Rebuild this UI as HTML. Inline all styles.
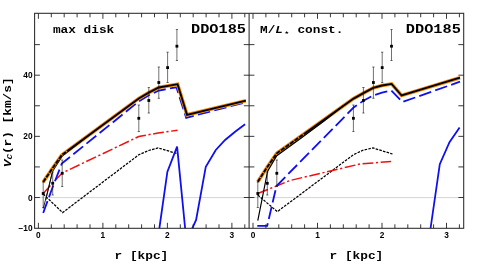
<!DOCTYPE html><html><head><meta charset="utf-8"><style>html,body{margin:0;padding:0;background:#fff;}svg{display:block}text{filter:grayscale(1)}text{font-family:"Liberation Mono",monospace;font-weight:bold;fill:#000}.t{font-family:"Liberation Sans",sans-serif;font-weight:bold;font-size:8.3px}</style></head><body>
<svg width="480" height="276" viewBox="0 0 480 276">
<rect width="480" height="276" fill="#fff"/>
<defs>
<clipPath id="cl"><rect x="34.6" y="13.3" width="214.5" height="215.0"/></clipPath>
<clipPath id="cr"><rect x="249.1" y="13.3" width="214.6" height="215.0"/></clipPath>
</defs>
<g clip-path="url(#cl)" fill="none" stroke-linejoin="miter">
<line x1="34.6" y1="197.6" x2="249.1" y2="197.6" stroke="#d4d4d4" stroke-width="1"/>
<polyline points="43.2,194.0 62.6,212.6 138.8,154.8 148.6,150.5 158.1,147.9 176.9,153.5" stroke="#000" stroke-width="1.25" stroke-dasharray="2.6,1.2"/>
<polyline points="43.2,193.5 52.7,183.0 62.2,173.0 138.8,136.5 158.1,133.0 177.6,130.2" stroke="#f01010" stroke-width="1.5" stroke-dasharray="10.8,2.6,2.2,2.6"/>
<polyline points="156.4,240.0 159.4,228.0 167.4,171.7 177.1,146.7 185.1,228.0 186.4,240.0" stroke="#1010ee" stroke-width="1.8"/>
<polyline points="190.4,240.0 192.4,228.0 196.1,220.0 205.8,166.7 215.8,150.0 225.1,140.0 235.4,131.5 245.1,124.3" stroke="#1010ee" stroke-width="1.8"/>
<polyline points="43.2,213.0 52.7,187.0 61.8,163.6 138.8,101.4 148.8,95.3 158.8,90.5 176.4,87.3 186.2,117.8 245.9,102.2" stroke="#1010ee" stroke-width="1.8" stroke-dasharray="12.6,4.3"/>
<polyline points="43.2,182.0 52.7,168.0 61.8,155.0 138.8,98.4 148.8,92.6 158.8,87.5 177.6,84.2 187.0,114.8 245.9,100.7" stroke="#f08a10" stroke-width="3.6"/>
<polyline points="43.2,182.0 52.7,168.0 61.8,155.0 138.8,98.4 148.8,92.6 158.8,87.5 177.6,84.2 187.0,114.8 245.9,100.7" stroke="#000" stroke-width="1.85" stroke-dasharray="4.4,1.2,4.4,1.2,4.4,1.2,4.4,1.2,4.4,1.2,4.4,1.2,4.4,1.2,2000,1"/>
<polyline points="43.3,208.5 52.7,171.5 62.2,156.3 100.4,126.6" stroke="#000" stroke-width="0.85"/>
<polyline points="45.8,200.0 52.0,173.0" stroke="#000" stroke-width="0.85"/>
<path d="M43.2,182V207.5M42.1,182h2.2M42.1,207.5h2.2" stroke="#111" stroke-width="0.6"/>
<rect x="41.8" y="192.1" width="2.8" height="2.8" fill="#000" stroke="none"/>
<path d="M52.7,172V195M51.6,172h2.2M51.6,195h2.2" stroke="#111" stroke-width="0.6"/>
<rect x="51.3" y="181.9" width="2.8" height="2.8" fill="#000" stroke="none"/>
<path d="M62.2,160V186.5M61.1,160h2.2M61.1,186.5h2.2" stroke="#111" stroke-width="0.6"/>
<rect x="60.8" y="171.9" width="2.8" height="2.8" fill="#000" stroke="none"/>
<path d="M138.8,105V131.5M137.7,105h2.2M137.7,131.5h2.2" stroke="#111" stroke-width="0.6"/>
<rect x="137.4" y="116.9" width="2.8" height="2.8" fill="#000" stroke="none"/>
<path d="M148.8,87.5V113M147.7,87.5h2.2M147.7,113h2.2" stroke="#111" stroke-width="0.6"/>
<rect x="147.4" y="99.1" width="2.8" height="2.8" fill="#000" stroke="none"/>
<path d="M158.8,67V98.3M157.7,67h2.2M157.7,98.3h2.2" stroke="#111" stroke-width="0.6"/>
<rect x="157.4" y="81.1" width="2.8" height="2.8" fill="#000" stroke="none"/>
<path d="M167.6,52.2V82.5M166.5,52.2h2.2M166.5,82.5h2.2" stroke="#111" stroke-width="0.6"/>
<rect x="166.2" y="66.2" width="2.8" height="2.8" fill="#000" stroke="none"/>
<path d="M176.9,29.5V60.5M175.8,29.5h2.2M175.8,60.5h2.2" stroke="#111" stroke-width="0.6"/>
<rect x="175.5" y="44.8" width="2.8" height="2.8" fill="#000" stroke="none"/>
</g>
<g clip-path="url(#cr)" fill="none" stroke-linejoin="miter">
<line x1="249.1" y1="197.6" x2="463.7" y2="197.6" stroke="#d4d4d4" stroke-width="1"/>
<polyline points="257.8,195.0 277.3,211.7 353.6,154.6 363.5,150.0 373.1,148.0 392.5,154.0" stroke="#000" stroke-width="1.25" stroke-dasharray="2.6,1.2"/>
<polyline points="257.8,193.5 290.0,180.5 332.5,170.5 360.0,164.0 391.0,161.5" stroke="#f01010" stroke-width="1.5" stroke-dasharray="10.8,2.6,2.2,2.6"/>
<polyline points="429.0,240.0 430.6,228.0 439.8,164.2 449.5,142.2 459.6,127.6" stroke="#1010ee" stroke-width="1.8"/>
<polyline points="257.3,225.8 267.2,225.8 276.5,186.0 353.6,107.5 363.4,100.8 373.2,95.5 382.0,92.6 391.3,90.4 402.4,102.0 460.0,81.7" stroke="#1010ee" stroke-width="1.8" stroke-dasharray="12.6,4.3"/>
<polyline points="257.8,181.7 267.3,167.0 276.8,153.3 353.6,98.6 363.4,93.1 373.2,87.9 382.0,85.5 391.6,83.9 401.6,95.5 460.0,77.7" stroke="#f08a10" stroke-width="3.6"/>
<polyline points="257.8,181.7 267.3,167.0 276.8,153.3 353.6,98.6 363.4,93.1 373.2,87.9 382.0,85.5 391.6,83.9 401.6,95.5 460.0,77.7" stroke="#000" stroke-width="1.85" stroke-dasharray="4.4,1.2,4.4,1.2,4.4,1.2,4.4,1.2,4.4,1.2,4.4,1.2,4.4,1.2,4.4,1.2,4.4,1.2,4.4,1.2,4.4,1.2,4.4,1.2,2000,1"/>
<polyline points="257.8,220.7 267.6,171.2 276.8,155.7 302.6,137.0 324.0,121.0 343.0,106.0" stroke="#000" stroke-width="1.2"/>
<path d="M257.8,182V207.5M256.7,182h2.2M256.7,207.5h2.2" stroke="#111" stroke-width="0.6"/>
<rect x="256.4" y="192.1" width="2.8" height="2.8" fill="#000" stroke="none"/>
<path d="M267.3,172V195M266.2,172h2.2M266.2,195h2.2" stroke="#111" stroke-width="0.6"/>
<rect x="265.9" y="181.9" width="2.8" height="2.8" fill="#000" stroke="none"/>
<path d="M276.8,160V186.5M275.7,160h2.2M275.7,186.5h2.2" stroke="#111" stroke-width="0.6"/>
<rect x="275.4" y="171.9" width="2.8" height="2.8" fill="#000" stroke="none"/>
<path d="M353.4,105V131.5M352.3,105h2.2M352.3,131.5h2.2" stroke="#111" stroke-width="0.6"/>
<rect x="352.0" y="116.9" width="2.8" height="2.8" fill="#000" stroke="none"/>
<path d="M363.4,87.5V113M362.3,87.5h2.2M362.3,113h2.2" stroke="#111" stroke-width="0.6"/>
<rect x="362.0" y="99.1" width="2.8" height="2.8" fill="#000" stroke="none"/>
<path d="M373.4,67V98.3M372.3,67h2.2M372.3,98.3h2.2" stroke="#111" stroke-width="0.6"/>
<rect x="372.0" y="81.1" width="2.8" height="2.8" fill="#000" stroke="none"/>
<path d="M382.2,52.2V82.5M381.1,52.2h2.2M381.1,82.5h2.2" stroke="#111" stroke-width="0.6"/>
<rect x="380.8" y="66.2" width="2.8" height="2.8" fill="#000" stroke="none"/>
<path d="M391.5,29.5V60.5M390.4,29.5h2.2M390.4,60.5h2.2" stroke="#111" stroke-width="0.6"/>
<rect x="390.1" y="44.8" width="2.8" height="2.8" fill="#000" stroke="none"/>
</g>
<g stroke="#2a2a2a" stroke-width="1.05" fill="none">
<rect x="34.6" y="13.3" width="429.09999999999997" height="215.0"/>
<line x1="249.1" y1="13.3" x2="249.1" y2="228.3"/>
</g>
<g stroke="#222" stroke-width="0.9">
<line x1="38.40" y1="13.3" x2="38.40" y2="18.8"/>
<line x1="38.40" y1="228.3" x2="38.40" y2="222.8"/>
<line x1="51.30" y1="13.3" x2="51.30" y2="17.3"/>
<line x1="51.30" y1="228.3" x2="51.30" y2="224.3"/>
<line x1="64.20" y1="13.3" x2="64.20" y2="17.3"/>
<line x1="64.20" y1="228.3" x2="64.20" y2="224.3"/>
<line x1="77.10" y1="13.3" x2="77.10" y2="17.3"/>
<line x1="77.10" y1="228.3" x2="77.10" y2="224.3"/>
<line x1="90.00" y1="13.3" x2="90.00" y2="17.3"/>
<line x1="90.00" y1="228.3" x2="90.00" y2="224.3"/>
<line x1="102.90" y1="13.3" x2="102.90" y2="18.8"/>
<line x1="102.90" y1="228.3" x2="102.90" y2="222.8"/>
<line x1="115.80" y1="13.3" x2="115.80" y2="17.3"/>
<line x1="115.80" y1="228.3" x2="115.80" y2="224.3"/>
<line x1="128.70" y1="13.3" x2="128.70" y2="17.3"/>
<line x1="128.70" y1="228.3" x2="128.70" y2="224.3"/>
<line x1="141.60" y1="13.3" x2="141.60" y2="17.3"/>
<line x1="141.60" y1="228.3" x2="141.60" y2="224.3"/>
<line x1="154.50" y1="13.3" x2="154.50" y2="17.3"/>
<line x1="154.50" y1="228.3" x2="154.50" y2="224.3"/>
<line x1="167.40" y1="13.3" x2="167.40" y2="18.8"/>
<line x1="167.40" y1="228.3" x2="167.40" y2="222.8"/>
<line x1="180.30" y1="13.3" x2="180.30" y2="17.3"/>
<line x1="180.30" y1="228.3" x2="180.30" y2="224.3"/>
<line x1="193.20" y1="13.3" x2="193.20" y2="17.3"/>
<line x1="193.20" y1="228.3" x2="193.20" y2="224.3"/>
<line x1="206.10" y1="13.3" x2="206.10" y2="17.3"/>
<line x1="206.10" y1="228.3" x2="206.10" y2="224.3"/>
<line x1="219.00" y1="13.3" x2="219.00" y2="17.3"/>
<line x1="219.00" y1="228.3" x2="219.00" y2="224.3"/>
<line x1="231.90" y1="13.3" x2="231.90" y2="18.8"/>
<line x1="231.90" y1="228.3" x2="231.90" y2="222.8"/>
<line x1="244.80" y1="13.3" x2="244.80" y2="17.3"/>
<line x1="244.80" y1="228.3" x2="244.80" y2="224.3"/>
<line x1="253.00" y1="13.3" x2="253.00" y2="18.8"/>
<line x1="253.00" y1="228.3" x2="253.00" y2="222.8"/>
<line x1="265.90" y1="13.3" x2="265.90" y2="17.3"/>
<line x1="265.90" y1="228.3" x2="265.90" y2="224.3"/>
<line x1="278.80" y1="13.3" x2="278.80" y2="17.3"/>
<line x1="278.80" y1="228.3" x2="278.80" y2="224.3"/>
<line x1="291.70" y1="13.3" x2="291.70" y2="17.3"/>
<line x1="291.70" y1="228.3" x2="291.70" y2="224.3"/>
<line x1="304.60" y1="13.3" x2="304.60" y2="17.3"/>
<line x1="304.60" y1="228.3" x2="304.60" y2="224.3"/>
<line x1="317.50" y1="13.3" x2="317.50" y2="18.8"/>
<line x1="317.50" y1="228.3" x2="317.50" y2="222.8"/>
<line x1="330.40" y1="13.3" x2="330.40" y2="17.3"/>
<line x1="330.40" y1="228.3" x2="330.40" y2="224.3"/>
<line x1="343.30" y1="13.3" x2="343.30" y2="17.3"/>
<line x1="343.30" y1="228.3" x2="343.30" y2="224.3"/>
<line x1="356.20" y1="13.3" x2="356.20" y2="17.3"/>
<line x1="356.20" y1="228.3" x2="356.20" y2="224.3"/>
<line x1="369.10" y1="13.3" x2="369.10" y2="17.3"/>
<line x1="369.10" y1="228.3" x2="369.10" y2="224.3"/>
<line x1="382.00" y1="13.3" x2="382.00" y2="18.8"/>
<line x1="382.00" y1="228.3" x2="382.00" y2="222.8"/>
<line x1="394.90" y1="13.3" x2="394.90" y2="17.3"/>
<line x1="394.90" y1="228.3" x2="394.90" y2="224.3"/>
<line x1="407.80" y1="13.3" x2="407.80" y2="17.3"/>
<line x1="407.80" y1="228.3" x2="407.80" y2="224.3"/>
<line x1="420.70" y1="13.3" x2="420.70" y2="17.3"/>
<line x1="420.70" y1="228.3" x2="420.70" y2="224.3"/>
<line x1="433.60" y1="13.3" x2="433.60" y2="17.3"/>
<line x1="433.60" y1="228.3" x2="433.60" y2="224.3"/>
<line x1="446.50" y1="13.3" x2="446.50" y2="18.8"/>
<line x1="446.50" y1="228.3" x2="446.50" y2="222.8"/>
<line x1="459.40" y1="13.3" x2="459.40" y2="17.3"/>
<line x1="459.40" y1="228.3" x2="459.40" y2="224.3"/>
<line x1="34.6" y1="197.50" x2="39.9" y2="197.50"/>
<line x1="243.79999999999998" y1="197.50" x2="254.4" y2="197.50"/>
<line x1="458.4" y1="197.50" x2="463.7" y2="197.50"/>
<line x1="34.6" y1="166.93" x2="39.9" y2="166.93"/>
<line x1="243.79999999999998" y1="166.93" x2="254.4" y2="166.93"/>
<line x1="458.4" y1="166.93" x2="463.7" y2="166.93"/>
<line x1="34.6" y1="136.35" x2="39.9" y2="136.35"/>
<line x1="243.79999999999998" y1="136.35" x2="254.4" y2="136.35"/>
<line x1="458.4" y1="136.35" x2="463.7" y2="136.35"/>
<line x1="34.6" y1="105.77" x2="39.9" y2="105.77"/>
<line x1="243.79999999999998" y1="105.77" x2="254.4" y2="105.77"/>
<line x1="458.4" y1="105.77" x2="463.7" y2="105.77"/>
<line x1="34.6" y1="75.20" x2="39.9" y2="75.20"/>
<line x1="243.79999999999998" y1="75.20" x2="254.4" y2="75.20"/>
<line x1="458.4" y1="75.20" x2="463.7" y2="75.20"/>
<line x1="34.6" y1="44.62" x2="39.9" y2="44.62"/>
<line x1="243.79999999999998" y1="44.62" x2="254.4" y2="44.62"/>
<line x1="458.4" y1="44.62" x2="463.7" y2="44.62"/>
</g>
<text class="t" x="38.4" y="237.9" text-anchor="middle">0</text>
<text class="t" x="102.9" y="237.9" text-anchor="middle">1</text>
<text class="t" x="167.4" y="237.9" text-anchor="middle">2</text>
<text class="t" x="231.9" y="237.9" text-anchor="middle">3</text>
<text class="t" x="253.0" y="237.9" text-anchor="middle">0</text>
<text class="t" x="317.5" y="237.9" text-anchor="middle">1</text>
<text class="t" x="382.0" y="237.9" text-anchor="middle">2</text>
<text class="t" x="446.5" y="237.9" text-anchor="middle">3</text>
<text class="t" x="32.6" y="78.3" text-anchor="end">40</text>
<text class="t" x="32.6" y="139.4" text-anchor="end">20</text>
<text class="t" x="32.6" y="200.6" text-anchor="end">0</text>
<text class="t" x="32.6" y="231.2" text-anchor="end">−10</text>
<text transform="translate(52.9,32.8) scale(1,0.85)" font-size="12.8px">max disk</text>
<text transform="translate(260,32.8) scale(1,0.85)" font-size="12.8px">M/<tspan font-style="italic">L</tspan><tspan font-size="7.5px" dy="1.2" dx="1.6">★</tspan><tspan dy="-1.2" dx="0.6"> const.</tspan></text>
<text transform="translate(191,32.6) scale(1,0.85)" font-size="15.3px">DDO185</text>
<text transform="translate(405.8,32.6) scale(1,0.85)" font-size="15.3px">DDO185</text>
<text transform="translate(114.6,258.8) scale(1,0.85)" font-size="12.8px">r [kpc]</text>
<text transform="translate(329.6,258.8) scale(1,0.85)" font-size="12.8px">r [kpc]</text>
<text transform="translate(10.7,167.2) rotate(-90) scale(1,0.85)" font-size="12.8px"><tspan font-style="italic">V</tspan><tspan font-size="9px" dy="2" font-style="italic">C</tspan><tspan dy="-2">(r) [km/s]</tspan></text>
</svg></body></html>
